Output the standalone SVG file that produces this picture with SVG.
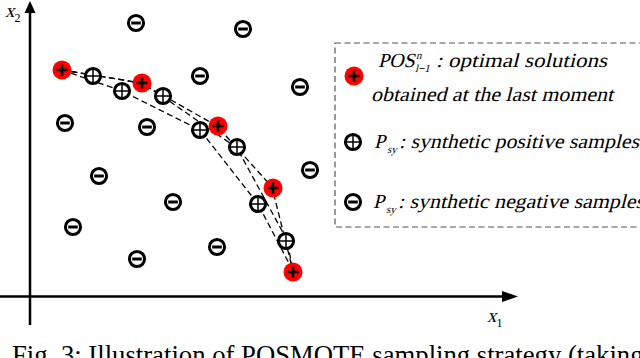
<svg xmlns="http://www.w3.org/2000/svg" xmlns:xlink="http://www.w3.org/1999/xlink" width="640" height="358" viewBox="0 0 640 358">
<style>
.ax{stroke:#000;stroke-width:2.5;fill:none}
.dash{stroke:#000;stroke-width:1.3;fill:none;stroke-dasharray:6,3.5}
.box{stroke:#555;stroke-width:1.2;fill:none;stroke-dasharray:6,3.5}
.math{font-family:"Liberation Serif",serif;font-style:normal;fill:#000}
.num{font-family:"Liberation Serif",serif;font-style:normal;fill:#000}
.cap{font-family:"Liberation Serif",serif;fill:#000}
</style>
<defs>
<g id="neg"><circle r="7.6" fill="#fff" stroke="#000" stroke-width="3"/><line x1="-4.8" y1="0" x2="4.8" y2="0" stroke="#000" stroke-width="3"/></g>
<g id="pos"><circle r="7.6" fill="#fff" stroke="#000" stroke-width="3"/><path d="M-6 0H6M0-6V6" stroke="#000" stroke-width="1.5"/></g>
<g id="red"><circle r="9.5" fill="#f00"/><path d="M-5.5 0H5.5M0-5.5V5.5" stroke="#000" stroke-width="2.6"/></g>
</defs>
<g id="axes">
<line class="ax" x1="30" y1="325" x2="30" y2="12"/>
<path d="M30 1L24.5 13H35.5z"/>
<line class="ax" x1="0" y1="296.5" x2="504" y2="296.5"/>
<path d="M518 296.5L502 291V302z"/>
<text class="math" transform="translate(5,17) skewX(-14)" font-size="19">x</text><text class="num" x="14.5" y="22" font-size="12">2</text>
<text class="math" transform="translate(487,322) skewX(-14)" font-size="19">x</text><text class="num" x="496.5" y="327" font-size="12">1</text>
</g>
<g id="connectors">
<polyline class="dash" points="62,70 141,83 217,126 272,187 293,271"/>
<polyline class="dash" points="62,70 93,75 141,83 162,96 237,148 287,240 293,271"/>
<polyline class="dash" points="62,70 122,91 200,130 258,204 293,271"/>
</g>
<g id="negatives">
<use xlink:href="#neg" x="136" y="23"/>
<use xlink:href="#neg" x="243" y="29"/>
<use xlink:href="#neg" x="200" y="76"/>
<use xlink:href="#neg" x="300" y="87"/>
<use xlink:href="#neg" x="65" y="123"/>
<use xlink:href="#neg" x="147" y="127"/>
<use xlink:href="#neg" x="310" y="170"/>
<use xlink:href="#neg" x="99" y="176"/>
<use xlink:href="#neg" x="173" y="202"/>
<use xlink:href="#neg" x="73" y="227"/>
<use xlink:href="#neg" x="217" y="247"/>
<use xlink:href="#neg" x="137" y="259"/>
</g>
<g id="synthetic-positives">
<use xlink:href="#pos" x="93" y="76"/>
<use xlink:href="#pos" x="122" y="91"/>
<use xlink:href="#pos" x="163" y="96"/>
<use xlink:href="#pos" x="200" y="130"/>
<use xlink:href="#pos" x="237" y="147"/>
<use xlink:href="#pos" x="258" y="204"/>
<use xlink:href="#pos" x="286" y="241"/>
</g>
<g id="optimal-solutions">
<use xlink:href="#red" x="62" y="70"/>
<use xlink:href="#red" x="142" y="83"/>
<use xlink:href="#red" x="218" y="126"/>
<use xlink:href="#red" x="273" y="188"/>
<use xlink:href="#red" x="293" y="272"/>
</g>
<g id="legend">
<rect class="box" x="335" y="43" width="320" height="184"/>
<use xlink:href="#red" x="354" y="76"/>
<text class="math" transform="translate(378,67) skewX(-14)" font-size="20">POS</text>
<text class="math" transform="translate(416,59) skewX(-14)" font-size="11">n</text>
<text class="math" transform="translate(415,72) skewX(-14)" font-size="11">l−1</text>
<text class="math" transform="translate(436,67) skewX(-14)" font-size="20" textLength="171" lengthAdjust="spacingAndGlyphs">: optimal solutions</text>
<text class="math" transform="translate(371,101) skewX(-14)" font-size="20" textLength="242" lengthAdjust="spacingAndGlyphs">obtained at the last moment</text>
<use xlink:href="#pos" x="353" y="142"/>
<text class="math" transform="translate(374,148) skewX(-14)" font-size="20">P</text>
<text class="math" transform="translate(387,153) skewX(-14)" font-size="11">sy</text>
<text class="math" transform="translate(399,148) skewX(-14)" font-size="20" textLength="240" lengthAdjust="spacingAndGlyphs">: synthetic positive samples</text>
<use xlink:href="#neg" x="353" y="202"/>
<text class="math" transform="translate(373,208) skewX(-14)" font-size="20">P</text>
<text class="math" transform="translate(386,213) skewX(-14)" font-size="11">sy</text>
<text class="math" transform="translate(398,208) skewX(-14)" font-size="20" textLength="246" lengthAdjust="spacingAndGlyphs">: synthetic negative samples</text>
</g>
<g id="caption">
<text class="cap" x="12" y="364" font-size="26.7">Fig. 3: Illustration of POSMOTE sampling strategy (taking</text>
</g>
</svg>
